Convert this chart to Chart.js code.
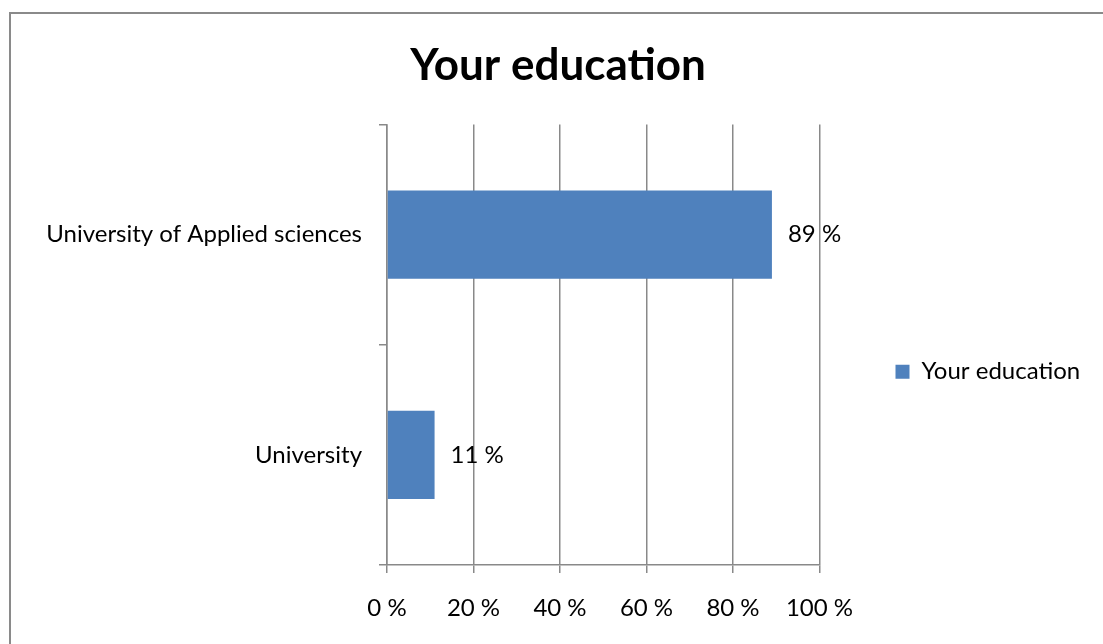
<!DOCTYPE html>
<html>
<head>
<meta charset="utf-8">
<script src="https://cdn.jsdelivr.net/npm/chart.js@4.4.0/dist/chart.umd.min.js"></script>
<style>
  html, body { margin: 0; padding: 0; background: #fff; overflow: hidden; }
  #frame { position: absolute; left: 9px; top: 12px; width: 1200px; height: 700px;
           border-left: 2px solid #8a8a8a; border-top: 2px solid #8a8a8a; }
  #c { position: absolute; left: 0; top: 0; }
</style>
</head>
<body>
<div id="frame"></div>
<canvas id="c" width="1103" height="644"></canvas>
<script>
// data
const categories = ['University of Applied sciences', 'University'];
const seriesName = 'Your education';
const values = [89, 11];
const xTicks = [0, 20, 40, 60, 80, 100];

const FONT = 'Lato';
const GRID = '#898989';

// "89 %" labels next to the bar ends
const barLabels = {
  id: 'barLabels',
  afterDatasetsDraw(chart) {
    const ctx = chart.ctx;
    const meta = chart.getDatasetMeta(0);
    ctx.save();
    ctx.font = '24px ' + FONT;
    ctx.fillStyle = '#000';
    ctx.textBaseline = 'middle';
    meta.data.forEach((bar, i) => {
      ctx.fillText(values[i] + ' %', bar.x + 16, bar.y);
    });
    ctx.restore();
  }
};

new Chart(document.getElementById('c'), {
  type: 'bar',
  data: {
    labels: categories,
    datasets: [{
      label: seriesName,
      data: values,
      backgroundColor: '#4F81BD',
      borderWidth: 0,
      barPercentage: 0.4,
      categoryPercentage: 1
    }]
  },
  options: {
    indexAxis: 'y',
    responsive: false,
    animation: false,
    layout: { padding: { left: 35, right: 22, top: 0, bottom: 0 } },
    plugins: {
      title: {
        display: true,
        text: seriesName,
        color: '#000',
        font: { family: FONT, size: 44, weight: 'bold' },
        padding: { top: 39, bottom: 32.7 }
      },
      legend: {
        position: 'right',
        fullSize: false,
        title: { display: true, text: '', font: { size: 10 }, padding: { top: 42, bottom: 0 } },
        labels: {
          boxWidth: 14,
          boxHeight: 14,
          padding: 76,
          color: '#000',
          font: { family: FONT, size: 24 }
        }
      },
      tooltip: { enabled: false }
    },
    scales: {
      x: {
        min: 0,
        max: 100,
        afterBuildTicks: s => { s.ticks = xTicks.map(v => ({ value: v })); },
        afterFit: s => { s.height = 79; },
        ticks: {
          color: '#000',
          font: { family: FONT, size: 24 },
          padding: 21,
          callback: v => v + ' %'
        },
        grid: { color: GRID, lineWidth: 1.5, tickLength: 8 },
        border: { color: GRID, width: 1.5 }
      },
      y: {
        afterFit: s => { s.width = 352; },
        ticks: {
          color: '#000',
          font: { family: FONT, size: 24 },
          padding: 17
        },
        grid: { drawOnChartArea: false, color: GRID, lineWidth: 1.5, tickLength: 8, offset: true },
        border: { color: GRID, width: 1.5 }
      }
    }
  },
  plugins: [barLabels]
});
</script>
</body>
</html>
